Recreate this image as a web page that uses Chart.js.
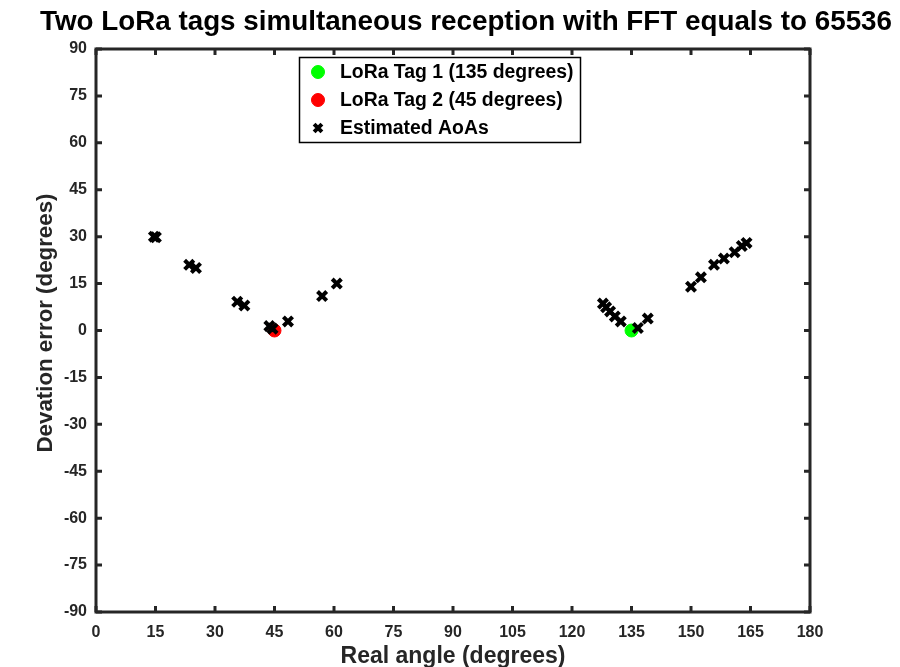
<!DOCTYPE html>
<html><head><meta charset="utf-8">
<script src="https://cdn.jsdelivr.net/npm/chart.js@4.4.0/dist/chart.umd.min.js"></script>
<style>html,body{margin:0;padding:0;background:#fff;}</style>
</head><body>
<canvas id="c" width="900" height="667"></canvas>
<script>
const titleText = 'Two LoRa tags simultaneous reception with FFT equals to 65536';
const xTitle = 'Real angle (degrees)';
const yTitle = 'Devation error (degrees)';
const legendLabels = ['LoRa Tag 1 (135 degrees)', 'LoRa Tag 2 (45 degrees)', 'Estimated AoAs'];
const xTicks = [0,15,30,45,60,75,90,105,120,135,150,165,180];
const yTicks = [-90,-75,-60,-45,-30,-15,0,15,30,45,60,75,90];
const tag1X = [135], tag1Y = [0];
const tag2X = [45], tag2Y = [0];
const estX = [14.6,15.1,23.5,25.2,35.6,37.4,43.7,44.5,48.4,57.0,60.7,
              127.8,128.6,129.6,130.8,132.3,136.6,139.1,
              150.0,152.5,155.8,158.3,161.0,162.8,164.0];
const estY = [30,29.8,21,20,9.2,8,1.4,0.6,2.9,11,15,
              8.6,7.4,6.1,4.5,2.9,0.8,3.8,
              14,17,21,23,25,27,28];

const toPts = (xs, ys) => xs.map((x,i)=>({x:x, y:ys[i]}));
const FONT = '"Liberation Sans", Arial, Helvetica, sans-serif';
const AX = '#262626';

const framePlugin = {
  id:'frame',
  afterDraw(chart){
    const {ctx, chartArea:a, scales} = chart;
    ctx.save();
    // title
    ctx.fillStyle = '#000'; ctx.font = 'bold 27.8px ' + FONT;
    ctx.textAlign = 'center'; ctx.textBaseline = 'middle';
    ctx.fillText(titleText, 466, 22);
    // y axis title
    ctx.save();
    ctx.translate(46, 323); ctx.rotate(-Math.PI/2);
    ctx.fillStyle = AX; ctx.font = 'bold 22.3px ' + FONT;
    ctx.fillText(yTitle, 0, 0);
    ctx.restore();
    // frame
    ctx.strokeStyle = AX; ctx.lineWidth = 3;
    ctx.strokeRect(a.left, a.top, a.right-a.left, a.bottom-a.top);
    const tl = 6;
    ctx.beginPath();
    xTicks.forEach(v=>{ const px = scales.x.getPixelForValue(v);
      ctx.moveTo(px, a.bottom); ctx.lineTo(px, a.bottom-tl);
      ctx.moveTo(px, a.top); ctx.lineTo(px, a.top+tl); });
    yTicks.forEach(v=>{ const py = scales.y.getPixelForValue(v);
      ctx.moveTo(a.left, py); ctx.lineTo(a.left+tl, py);
      ctx.moveTo(a.right, py); ctx.lineTo(a.right-tl, py); });
    ctx.stroke();
    // legend
    const lx = a.left + 203, ly = a.top + 8, lw = 281, lh = 85;
    ctx.fillStyle = '#fff'; ctx.fillRect(lx, ly, lw, lh);
    ctx.lineWidth = 1.5; ctx.strokeStyle = '#000'; ctx.strokeRect(lx+0.5, ly+0.5, lw, lh);
    const dss = chart.data.datasets;
    const rows = [ly+15, ly+43, ly+71];
    dss.forEach((ds, i)=>{
      ctx.fillStyle = ds.backgroundColor; ctx.strokeStyle = ds.borderColor; ctx.lineWidth = ds.borderWidth;
      const r = ds.pointStyle === 'crossRot' ? 5.5 : ds.pointRadius;
      Chart.helpers.drawPoint(ctx, {pointStyle: ds.pointStyle, radius: r, borderWidth: ds.borderWidth, rotation:0}, lx+19, rows[i]);
      ctx.fillStyle = '#000';
      ctx.font = 'bold 19.4px ' + FONT; ctx.textBaseline = 'middle'; ctx.textAlign = 'left';
      ctx.fillText(legendLabels[i], lx+41, rows[i]+1);
    });
    ctx.restore();
  }
};

new Chart(document.getElementById('c'), {
  type:'scatter',
  data:{ datasets:[
    {label:legendLabels[0], data:toPts(tag1X,tag1Y), pointStyle:'circle', pointRadius:6.5, borderWidth:1, backgroundColor:'#00ff00', borderColor:'#00ff00', order:2},
    {label:legendLabels[1], data:toPts(tag2X,tag2Y), pointStyle:'circle', pointRadius:6.5, borderWidth:1, backgroundColor:'#ff0000', borderColor:'#ff0000', order:2},
    {label:legendLabels[2], data:toPts(estX,estY), pointStyle:'crossRot', pointRadius:6.5, borderWidth:4, backgroundColor:'#000', borderColor:'#000', order:1}
  ]},
  options:{
    responsive:false, animation:false, devicePixelRatio:1,
    layout:{padding:{top:49, right:90, left:0, bottom:0}},
    plugins:{ legend:{display:false}, tooltip:{enabled:false}, title:{display:false} },
    scales:{
      x:{type:'linear', min:0, max:180,
         afterBuildTicks: s => { s.ticks = xTicks.map(v=>({value:v})); },
         afterFit: s => { s.height = 55; },
         ticks:{color:AX, font:{family:FONT, size:16, weight:'bold'}, padding:11, maxRotation:0},
         grid:{display:false, drawTicks:false}, border:{display:false},
         title:{display:true, text:xTitle, color:AX, font:{family:FONT, size:23, weight:'bold'}, padding:{top:0,bottom:-3}}},
      y:{type:'linear', min:-90, max:90,
         afterBuildTicks: s => { s.ticks = yTicks.map(v=>({value:v})); },
         afterFit: s => { s.width = 96; },
         ticks:{color:AX, font:{family:FONT, size:16, weight:'bold'}, padding:9},
         grid:{display:false, drawTicks:false}, border:{display:false},
         title:{display:false, text:yTitle}}
    }
  },
  plugins:[framePlugin]
});
</script>
</body></html>
